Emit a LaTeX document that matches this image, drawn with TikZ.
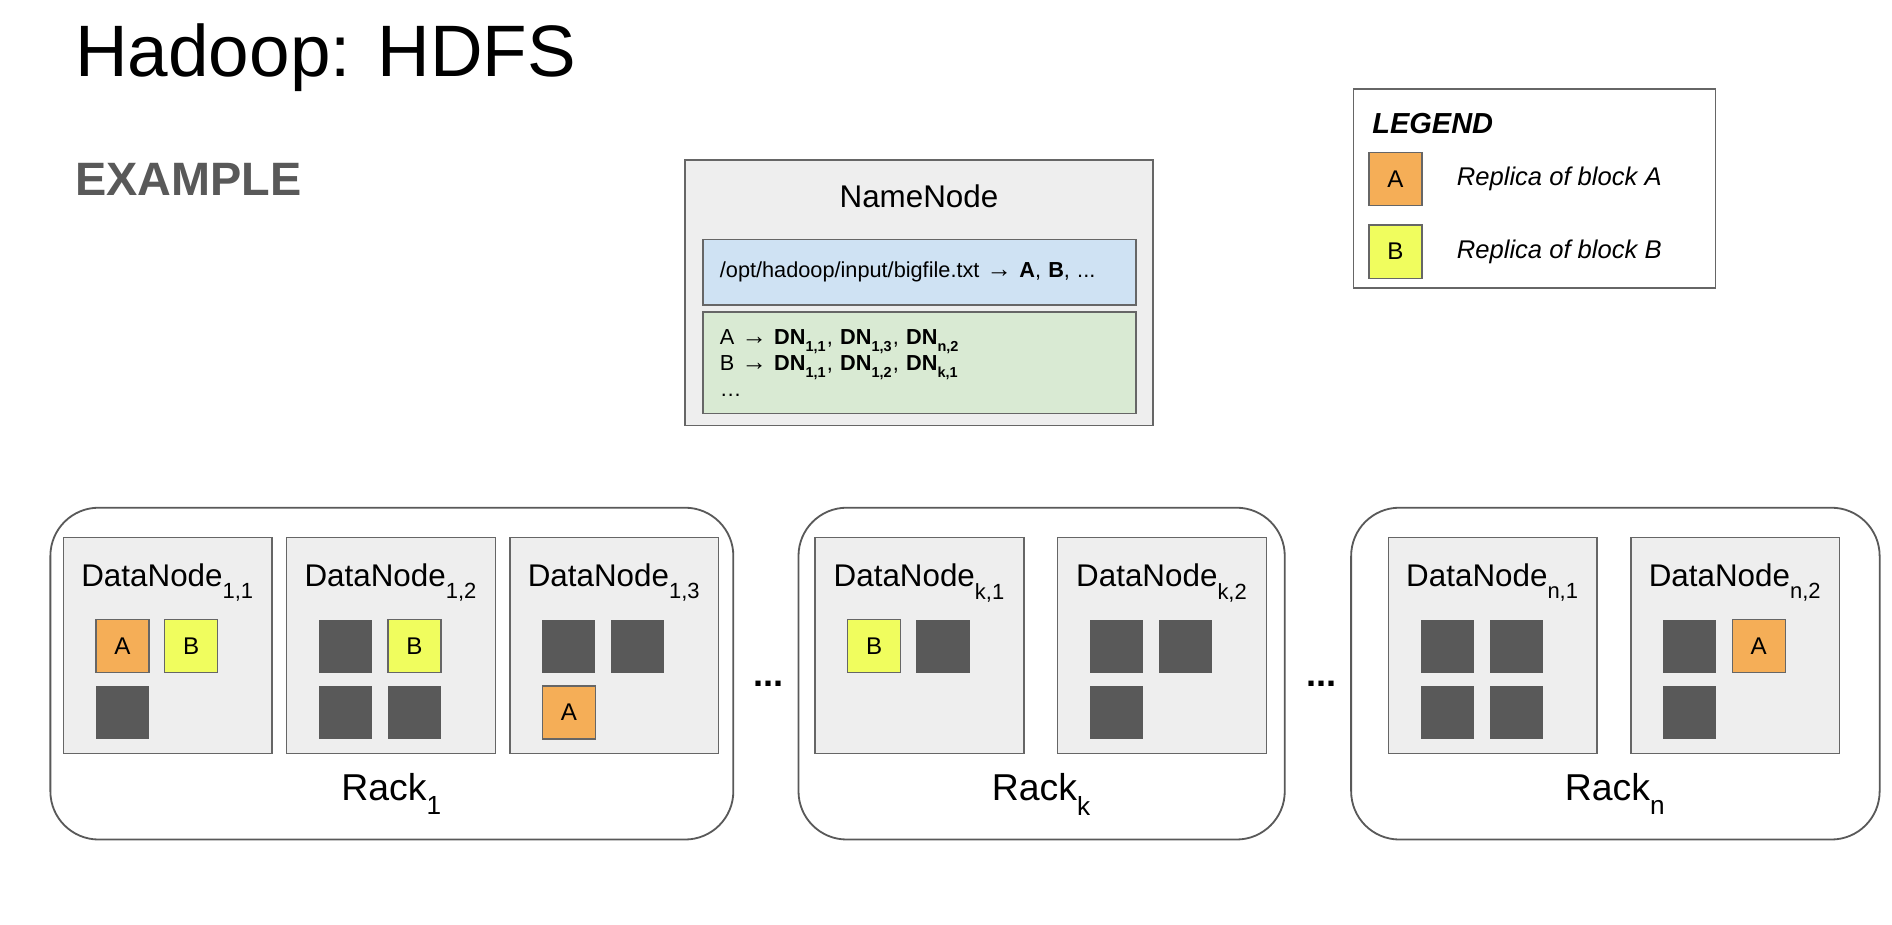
\documentclass[tikz,border=0pt]{standalone}
\usepackage{fontspec}
\setmainfont{Liberation Sans}
\usepackage{xcolor}
\usepackage{tikz}
\usetikzlibrary{positioning}
\definecolor{boxgray}{HTML}{EEEEEE}
\definecolor{linegray}{HTML}{666666}
\definecolor{darkblk}{HTML}{595959}
\definecolor{orangeA}{HTML}{F5AE57}
\definecolor{yellowB}{HTML}{F0FD5E}
\definecolor{pathblue}{HTML}{CFE2F3}
\definecolor{mapgreen}{HTML}{D9EAD3}
\newcommand{\fs}[1]{\fontsize{#1}{1.2\dimexpr#1pt\relax}\selectfont}
\newcommand{\lsub}[1]{\raisebox{-0.22em}{\textsubscript{#1}}}

\begin{document}
\begin{tikzpicture}[x=0.5pt,y=-0.5pt,every node/.style={inner sep=0pt},
  nnbox/.style={draw=linegray,fill=boxgray,line width=0.6pt,anchor=north west},
  tablebox/.style={draw=linegray,line width=0.6pt,anchor=north west,align=left,
    minimum width=179.5pt,text width=165.5pt,inner xsep=7pt,font=\fontsize{9}{10.75}\selectfont},
  rack/.style={draw=darkblk,fill=white,line width=0.75pt,rounded corners=20pt,
    minimum height=137.5pt,anchor=north west},
  datanode/.style={draw=linegray,fill=boxgray,line width=0.6pt,
    minimum width=86.5pt,minimum height=89.5pt,anchor=north west},
  blk/.style={anchor=north west,minimum size=22pt,line width=0.5pt,font=\fs{10}},
  blka/.style={blk,draw=linegray,fill=orangeA},
  blkb/.style={blk,draw=linegray,fill=yellowB},
  blkd/.style={blk,fill=darkblk},
  dntext/.style={anchor=base,font=\fs{13}},
  racktext/.style={anchor=base,font=\fs{15.5}}]
  \useasboundingbox[fill=white] (0,0) rectangle (1568,766);
  % heading
  \node[anchor=base west,font=\fs{30.2}] (title) at (62,63) {Hadoop: HDFS};
  \node[anchor=base west,font=\bfseries\fs{19.4},text=darkblk] (example) at (62,162) {EXAMPLE};

  % namenode with its tables
  \node[nnbox,minimum width=194pt,minimum height=110pt] (nn) at (567,132) {};
  \node[anchor=base,font=\fs{13}] (nn-t) at ([yshift=-20pt]nn.north) {NameNode};
  \node[tablebox,fill=pathblue,minimum height=27pt] (files) at (582,198)
    {/opt/hadoop/input/bigfile.txt {\fs{10.5}→} \textbf{A}, \textbf{B}, ...};
  \node[tablebox,fill=mapgreen,minimum height=42pt] (blocks) at (582,258)
    {A {\fs{10.5}→} \textbf{DN\lsub{1,1}}, \textbf{DN\lsub{1,3}}, \textbf{DN\lsub{n,2}}\\
     B {\fs{10.5}→} \textbf{DN\lsub{1,1}}, \textbf{DN\lsub{1,2}}, \textbf{DN\lsub{k,1}}\\
     …};

  % legend
  \node[draw=linegray,line width=0.6pt,anchor=north west,minimum width=150pt,minimum height=82.5pt] (leg) at (1121,73) {};
  \node[anchor=base west,font=\bfseries\itshape\fs{12}] (leg-t) at (1137,111) {LEGEND};
  \node[blka] (leg-a) at (1134,126) {A};
  \node[blkb] (leg-b) at (1134,186) {B};
  \node[right=14pt of leg-a,font=\itshape\fs{10.6}] (leg-at) {Replica of block A};
  \node[right=14pt of leg-b,font=\itshape\fs{10.6}] (leg-bt) {Replica of block B};

  % racks
  \foreach \nm/\x/\w/\sub in {rack1/41/283/1, rackk/661/201.5/k, rackn/1119/219/n} {
    \node[rack,minimum width=\w pt] (\nm) at (\x,420) {};
    \node[racktext] (\nm-t) at ([yshift=16.5pt]\nm.south) {Rack\lsub{\sub}};
  }
  \node[font=\bfseries\fs{15}] (dots1) at (637,567) {...};
  \node[font=\bfseries\fs{15}] (dots2) at (1095,567) {...};

  % datanodes
  \foreach \nm/\x/\sub in {dn11/52/{1,1}, dn12/237/{1,2}, dn13/422/{1,3},
      dnk1/675/{k,1}, dnk2/876/{k,2}, dnn1/1150/{n,1}, dnn2/1351/{n,2}} {
    \node[datanode] (\nm) at (\x,445) {};
    \node[dntext] (\nm-t) at ([yshift=-20.5pt]\nm.north) {DataNode\lsub{\sub}};
  }

  % stored blocks
  \foreach \dn/\c/\r/\st/\txt in {dn11/0/0/blka/A, dn11/1/0/blkb/B, dn11/0/1/blkd/{},
      dn12/0/0/blkd/{}, dn12/1/0/blkb/B, dn12/0/1/blkd/{}, dn12/1/1/blkd/{},
      dn13/0/0/blkd/{}, dn13/1/0/blkd/{}, dn13/0/1/blka/A,
      dnk1/0/0/blkb/B, dnk1/1/0/blkd/{},
      dnk2/0/0/blkd/{}, dnk2/1/0/blkd/{}, dnk2/0/1/blkd/{},
      dnn1/0/0/blkd/{}, dnn1/1/0/blkd/{}, dnn1/0/1/blkd/{}, dnn1/1/1/blkd/{},
      dnn2/0/0/blkd/{}, dnn2/1/0/blka/A, dnn2/0/1/blkd/{}}
    \node[\st] (\dn-\c\r) at ([shift={(27+57*\c,68+55*\r)}]\dn.north west) {\txt};
\end{tikzpicture}
\end{document}
